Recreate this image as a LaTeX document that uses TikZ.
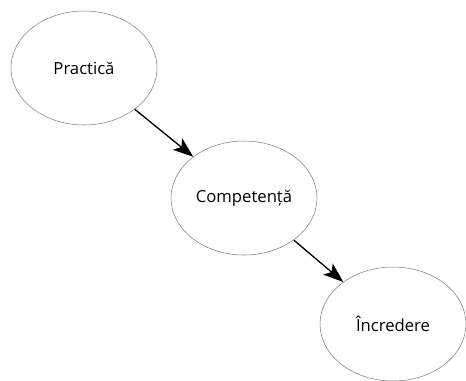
\documentclass[tikz,border=0pt]{standalone}
\usepackage{fontspec}
\setmainfont{Open Sans}
\usetikzlibrary{arrows.meta,shapes.geometric}

\begin{document}
\begin{tikzpicture}[
  x=0.75pt, y=-0.75pt,
  stage/.style={draw=black!50, ellipse, minimum width=109.5pt, minimum height=85.5pt,
                inner sep=0pt, line width=0.4pt, font=\fontsize{12.5}{14}\selectfont},
  >={Stealth[length=15pt, width=11pt, inset=3.5pt]}, line width=1pt
]
  \useasboundingbox (0,0) rectangle (466,380);

  \node[stage] (prac) at (84,68)   {Practică};
  \node[stage] (comp) at (244,198) {Competență};
  \node[stage] (incr) at (393,324) {Încredere};

  % each stage leads to the next one
  \draw[->] (prac) -- (comp);
  \draw[->] (comp) -- (incr);
\end{tikzpicture}
\end{document}
